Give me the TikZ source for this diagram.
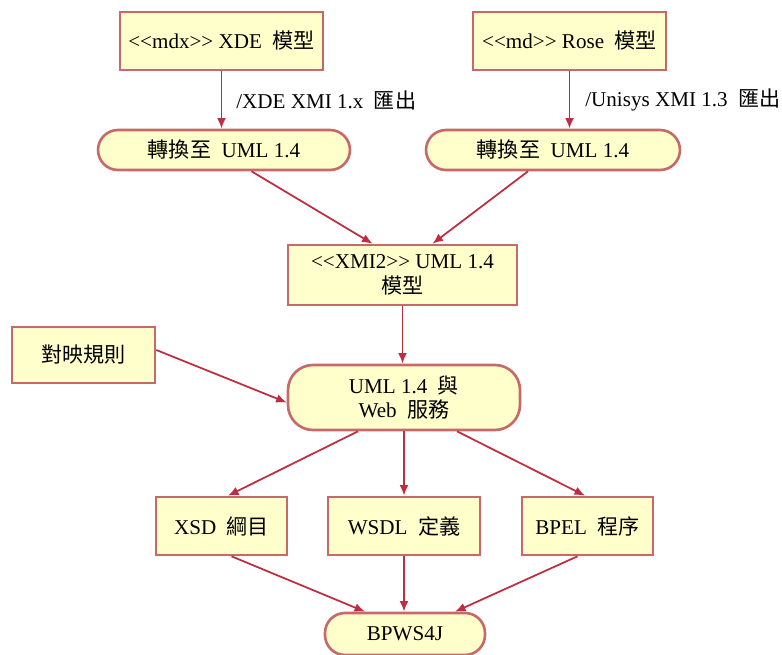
\documentclass[tikz,border=0pt]{standalone}
\usepackage{fontspec}
\setmainfont{Liberation Serif}
\newfontfamily\cjk{Noto Sans CJK TC}
\usetikzlibrary{arrows.meta}
\usetikzlibrary{positioning}
\definecolor{boxfill}{RGB}{255,255,204}
\definecolor{boxline}{RGB}{200,105,105}
\definecolor{flowline}{RGB}{190,45,65}
\newcommand{\zh}[1]{{\cjk #1}}
\newcommand{\stereo}[1]{<\kern0pt<#1>\kern0pt>}
\tikzset{
  plainbox/.style={rectangle,draw=boxline,fill=boxfill,line width=1.5pt,font=\fontsize{12}{14}\selectfont,align=center,inner sep=0pt},
  roundbox/.style={plainbox,rounded corners=0.4cm},
  flow/.style={draw=flowline,line width=1pt,-{Latex[length=6pt,width=5pt]}}
}
\begin{document}
\begin{tikzpicture}[x=0.02cm,y=-0.02cm]
\useasboundingbox (0,0) rectangle (782,655);
% models
\node[plainbox,minimum width=4.06cm,minimum height=1.16cm] (xde) at (221.5,41) {\stereo{mdx} XDE~ \zh{模型}};
\node[plainbox,minimum width=3.86cm,minimum height=1.16cm] (rose) at (569.5,41) {\stereo{md} Rose~ \zh{模型}};
\node[roundbox,minimum width=5.04cm,minimum height=0.8cm] (convA) at (224,150) {\zh{轉換至}~ UML 1.4};
\node[roundbox,minimum width=5.08cm,minimum height=0.8cm] (convB) at (553,150) {\zh{轉換至}~ UML 1.4};
\node[font=\fontsize{12}{14}\selectfont,anchor=west,inner sep=0pt] (xdelbl) at (236,100) {/XDE XMI 1.x~ \zh{匯出}};
\node[font=\fontsize{12}{14}\selectfont,anchor=west,inner sep=0pt] (roselbl) at (585,100) {/Unisys XMI 1.3~ \zh{匯出}};
\node[plainbox,minimum width=4.58cm,minimum height=1.2cm] (xmi) at (402.5,275) {\stereo{XMI2} UML 1.4\\\zh{模型}};
\node[plainbox,minimum width=2.86cm,minimum height=1.12cm] (rules) at (83.5,355) {\zh{對映規則}};
\node[roundbox,rounded corners=0.5cm,minimum width=4.64cm,minimum height=1.3cm] (uml) at (404,397.5) {UML 1.4~ \zh{與}\\Web~ \zh{服務}};
% outputs
\node[plainbox,minimum width=2.62cm,minimum height=1.16cm] (xsd) at (221.5,526) {XSD~ \zh{綱目}};
\node[plainbox,minimum width=3.04cm,minimum height=1.16cm] (wsdl) at (404,526) {WSDL~ \zh{定義}};
\node[plainbox,minimum width=2.62cm,minimum height=1.16cm] (bpel) at (587.5,526) {BPEL~ \zh{程序}};
\node[roundbox,minimum width=3.2cm,minimum height=0.84cm] (bpws) at (405,634) {BPWS4J};

\draw[flow] (xde.south) -- (xde.south |- convA.north);
\draw[flow] (rose.south) -- (rose.south |- convB.north);
\draw[flow] ([xshift=0.55cm]convA.south) -- ([xshift=-0.6cm]xmi.north);
\draw[flow] ([xshift=-0.5cm]convB.south) -- ([xshift=0.6cm]xmi.north);
\draw[flow] (xmi.south) -- (xmi.south |- uml.north);
\draw[flow] ([yshift=0.1cm]rules.east) -- ([yshift=-0.1cm]uml.west);
\draw[flow] ([xshift=-0.92cm]uml.south) -- ([xshift=0.13cm]xsd.north);
\draw[flow] (uml) -- (wsdl);
\draw[flow] ([xshift=1.06cm]uml.south) -- ([xshift=-0.05cm]bpel.north);
\draw[flow] ([xshift=0.2cm]xsd.south) -- ([xshift=-0.8cm]bpws.north);
\draw[flow] (wsdl) -- (wsdl.south |- bpws.north);
\draw[flow] ([xshift=-0.2cm]bpel.south) -- ([xshift=1cm]bpws.north);
\end{tikzpicture}
\end{document}
